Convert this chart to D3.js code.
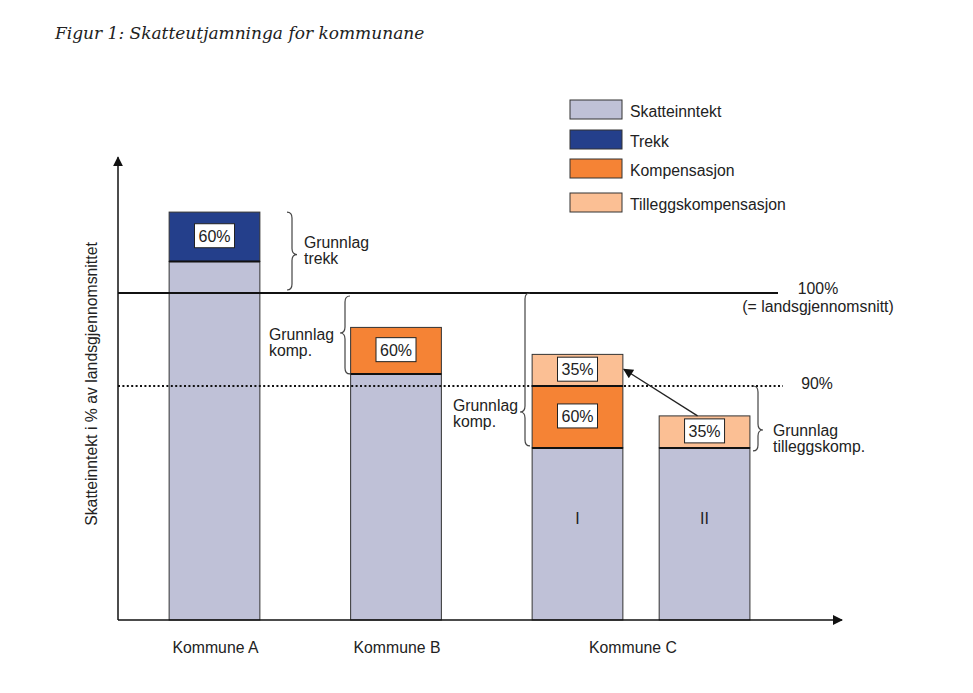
<!DOCTYPE html>
<html><head><meta charset="utf-8">
<script src="https://cdn.jsdelivr.net/npm/d3@7/dist/d3.min.js"></script>
<style>body{margin:0;background:#fff}svg{display:block}</style>
</head><body>
<svg id="c" width="973" height="693"></svg>
<script>
// ---- data ----
const title = "Figur 1: Skatteutjamninga for kommunane";
const yAxisTitle = "Skatteinntekt i % av landsgjennomsnittet";
const categories = ["Kommune A", "Kommune B", "Kommune C"];
const categorySlots = [0, 1, 2.3];
const barIds = ["A", "B", "C-I", "C-II"];
const barSlots = [0, 1, 2, 2.7];
const barNumerals = ["", "", "I", "II"];
const seriesKeys = ["Skatteinntekt", "Trekk", "Kompensasjon", "Tilleggskompensasjon"];
const skatteinntekt = [103.4, 91.3, 66.2, 66.2];
const trekk = [5.3, 0, 0, 0];
const kompensasjon = [0, 5.0, 23.8, 0];
const tilleggskompensasjon = [0, 0, 3.4, 12.3];
const segmentPct = {Trekk: "60%", Kompensasjon: "60%", Tilleggskompensasjon: "35%"};
const refLevels = [100, 90];
const refLabels = [["100%", "(= landsgjennomsnitt)"], ["90%"]];
const colors = {Skatteinntekt: "#bfc1d7", Trekk: "#243f8b", Kompensasjon: "#f58335", Tilleggskompensasjon: "#fbbf94"};

// ---- setup ----
const svg = d3.select("#c");
const font = "'Liberation Sans', Arial, sans-serif";
const fs = 15.8;
const x = d3.scaleLinear().domain([0, 3]).range([214.5, 759]);
const barW = x(0.5) - x(0);
const y = d3.scaleLinear().domain([0, 90, 100]).range([620, 386, 293]);
const axisX = 118, axisTop = y(114.6), axisRight = 842;

const rows = barIds.map((id, i) => ({id, slot: barSlots[i],
  Skatteinntekt: skatteinntekt[i], Trekk: trekk[i], Kompensasjon: kompensasjon[i], Tilleggskompensasjon: tilleggskompensasjon[i]}));
const stacked = d3.stack().keys(seriesKeys)(rows);

// title
svg.append("text").attr("x", 55).attr("y", 39).text(title)
  .attr("font-family", "'DejaVu Serif', serif").attr("font-style", "italic").attr("font-size", 17).attr("fill", "#222");

// bars
const gBars = svg.append("g");
stacked.forEach(layer => {
  layer.forEach((d, i) => {
    if (d[1] - d[0] <= 0) return;
    gBars.append("rect")
      .attr("x", x(rows[i].slot) - barW / 2).attr("width", barW)
      .attr("y", y(d[1])).attr("height", y(d[0]) - y(d[1]))
      .attr("fill", colors[layer.key]).attr("stroke", "#333").attr("stroke-width", 1);
  });
});
// internal boundaries (thicker)
stacked.forEach((layer, li) => {
  if (li === 0) return;
  layer.forEach((d, i) => {
    if (d[1] - d[0] <= 0) return;
    gBars.append("line").attr("x1", x(rows[i].slot) - barW / 2).attr("x2", x(rows[i].slot) + barW / 2)
      .attr("y1", y(d[0])).attr("y2", y(d[0])).attr("stroke", "#111").attr("stroke-width", 2);
  });
});
// percentage boxes
stacked.forEach(layer => {
  if (!segmentPct[layer.key]) return;
  layer.forEach((d, i) => {
    if (d[1] - d[0] <= 0) return;
    const cx = x(rows[i].slot), cy = (y(d[0]) + y(d[1])) / 2 - 1;
    gBars.append("rect").attr("x", cx - 20).attr("y", cy - 12).attr("width", 40).attr("height", 24)
      .attr("fill", "#fff").attr("stroke", "#222").attr("stroke-width", 1);
    gBars.append("text").attr("x", cx).attr("y", cy + 6).attr("text-anchor", "middle")
      .attr("font-family", font).attr("font-size", 16).attr("fill", "#222").text(segmentPct[layer.key]);
  });
});
// numerals
rows.forEach((r, i) => {
  if (!barNumerals[i]) return;
  svg.append("text").attr("x", x(r.slot)).attr("y", 524).attr("text-anchor", "middle")
    .attr("font-family", font).attr("font-size", 16).attr("fill", "#222").text(barNumerals[i]);
});

// reference lines
svg.append("line").attr("x1", axisX).attr("x2", 778).attr("y1", y(refLevels[0])).attr("y2", y(refLevels[0]))
  .attr("stroke", "#111").attr("stroke-width", 2);
svg.append("line").attr("x1", axisX).attr("x2", 783).attr("y1", y(refLevels[1])).attr("y2", y(refLevels[1]))
  .attr("stroke", "#111").attr("stroke-width", 2).attr("stroke-dasharray", "2,2.4");
svg.append("text").attr("x", 818).attr("y", y(refLevels[0]) + 1).attr("text-anchor", "middle")
  .attr("font-family", font).attr("font-size", fs).attr("fill", "#222").text(refLabels[0][0]);
svg.append("text").attr("x", 818).attr("y", y(refLevels[0]) + 19).attr("text-anchor", "middle")
  .attr("font-family", font).attr("font-size", fs).attr("fill", "#222").text(refLabels[0][1]);
svg.append("text").attr("x", 817).attr("y", y(refLevels[1]) + 3).attr("text-anchor", "middle")
  .attr("font-family", font).attr("font-size", fs).attr("fill", "#222").text(refLabels[1][0]);

// axes
const defs = svg.append("defs");
defs.append("marker").attr("id", "ah").attr("viewBox", "0 0 10 10").attr("refX", 9).attr("refY", 5)
  .attr("markerWidth", 10).attr("markerHeight", 10).attr("markerUnits", "userSpaceOnUse").attr("orient", "auto")
  .append("path").attr("d", "M0,0 L10,5 L0,10 Z").attr("fill", "#111");
defs.append("marker").attr("id", "ah2").attr("viewBox", "0 0 10 10").attr("refX", 9).attr("refY", 5)
  .attr("markerWidth", 12).attr("markerHeight", 10).attr("markerUnits", "userSpaceOnUse").attr("orient", "auto")
  .append("path").attr("d", "M0,0 L10,5 L0,10 Z").attr("fill", "#111");
svg.append("line").attr("x1", axisX).attr("x2", axisX).attr("y1", y(0)).attr("y2", axisTop)
  .attr("stroke", "#111").attr("stroke-width", 1.5).attr("marker-end", "url(#ah)");
svg.append("line").attr("x1", axisX).attr("x2", axisRight).attr("y1", y(0)).attr("y2", y(0))
  .attr("stroke", "#111").attr("stroke-width", 1.5).attr("marker-end", "url(#ah)");

// y title
svg.append("text").attr("transform", `translate(97,384) rotate(-90)`)
  .attr("text-anchor", "middle").attr("font-family", font).attr("font-size", fs).attr("fill", "#222").text(yAxisTitle);

// category labels
categories.forEach((c, i) => {
  svg.append("text").attr("x", x(categorySlots[i]) + 1).attr("y", 653).attr("text-anchor", "middle")
    .attr("font-family", font).attr("font-size", fs).attr("fill", "#222").text(c);
});

// braces
function brace(xFlat, xTip, y1, y2, yTip) {
  const dx = xTip - xFlat, xm = xFlat + dx / 2, r = 6;
  return `M${xFlat},${y1} Q${xm},${y1} ${xm},${y1 + r} L${xm},${yTip - r} Q${xm},${yTip} ${xTip},${yTip}` +
         ` Q${xm},${yTip} ${xm},${yTip + r} L${xm},${y2 - r} Q${xm},${y2} ${xFlat},${y2}`;
}
const braceStyle = s => s.attr("fill", "none").attr("stroke", "#444").attr("stroke-width", 1.2);
const ann = (tx, ty, lines, anchor) => lines.forEach((t, k) =>
  svg.append("text").attr("x", tx).attr("y", ty + k * 16).attr("text-anchor", anchor || "start")
    .attr("font-family", font).attr("font-size", fs).attr("fill", "#222").text(t));

const tA = skatteinntekt[0] + trekk[0];
svg.append("path").attr("d", brace(287, 297, y(tA), y(100) - 3, (y(tA) + y(100)) / 2 + 2)).call(braceStyle);
ann(304, 248, ["Grunnlag", "trekk"]);

svg.append("path").attr("d", brace(350, 340, y(100) + 3, y(skatteinntekt[1]), 333)).call(braceStyle);
ann(269, 340, ["Grunnlag", "komp."]);

svg.append("path").attr("d", brace(530, 520, y(100), y(skatteinntekt[2]) - 2, 412)).call(braceStyle);
ann(453, 411, ["Grunnlag", "komp."]);

svg.append("path").attr("d", brace(753, 763, y(90), y(skatteinntekt[3]) + 3, 430)).call(braceStyle);
ann(773, 436, ["Grunnlag", "tilleggskomp."]);

// arrow from C-II to C-I supplement
const cIITop = skatteinntekt[3] + tilleggskompensasjon[3];
const cITill = skatteinntekt[2] + kompensasjon[2] + tilleggskompensasjon[2] / 2;
svg.append("line").attr("x1", x(barSlots[3]) - 7).attr("y1", y(cIITop))
  .attr("x2", x(barSlots[2]) + barW / 2 + 1).attr("y2", y(cITill) - 1)
  .attr("stroke", "#222").attr("stroke-width", 1.3).attr("marker-end", "url(#ah2)");

// legend
const lg = svg.append("g");
const legY = [100, 130, 159, 193];
seriesKeys.forEach((k, i) => {
  lg.append("rect").attr("x", 570).attr("y", legY[i]).attr("width", 52).attr("height", 19)
    .attr("fill", colors[k]).attr("stroke", "#333").attr("stroke-width", 1);
  lg.append("text").attr("x", 630).attr("y", legY[i] + 17).attr("font-family", font).attr("font-size", fs)
    .attr("fill", "#222").text(k);
});
</script>
</body></html>
